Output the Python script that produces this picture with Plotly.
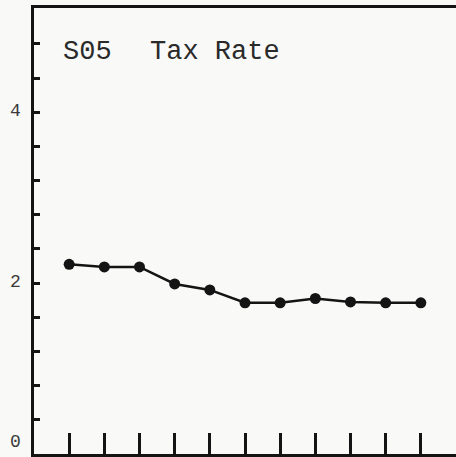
import plotly.graph_objects as go

# Data
periods = [1, 2, 3, 4, 5, 6, 7, 8, 9, 10, 11]
tax_rate = [2.22, 2.19, 2.19, 1.99, 1.92, 1.77, 1.77, 1.82, 1.78, 1.77, 1.77]
y_tick_labels = ["0", "2", "4"]
y_tick_label_vals = [0.14, 2.01, 4.02]
y_minor_ticks = [0.4, 0.8, 1.2, 1.6, 2.0, 2.4, 2.8, 3.2, 3.6, 4.0, 4.4, 4.8]
title_left = "S05"
title_right = "Tax Rate"

ink = "#141414"

fig = go.Figure()
fig.add_trace(go.Scatter(
    x=periods, y=tax_rate, mode="lines+markers",
    line=dict(color=ink, width=2.5),
    marker=dict(color=ink, size=11),
    showlegend=False, cliponaxis=False,
))

annotations = []
for lab, v in zip(y_tick_labels, y_tick_label_vals):
    annotations.append(dict(
        x=-0.045, xref="paper", y=v, yref="y", text=lab, showarrow=False,
        xanchor="center", yanchor="middle",
        font=dict(family="Liberation Mono", size=18, color="#3a3a3a"),
    ))
annotations.append(dict(
    x=0.77, xref="x", y=4.7, yref="y", text=title_left, showarrow=False,
    xanchor="left", yanchor="middle",
    font=dict(family="Liberation Mono", size=27, color="#2a2a2a"),
))
annotations.append(dict(
    x=3.24, xref="x", y=4.7, yref="y", text=title_right, showarrow=False,
    xanchor="left", yanchor="middle",
    font=dict(family="Liberation Mono", size=27, color="#2a2a2a"),
))

fig.update_layout(
    width=456, height=457,
    margin=dict(l=34, r=0, t=8, b=3),
    paper_bgcolor="#f9f9f7", plot_bgcolor="#f9f9f7",
    annotations=annotations,
    xaxis=dict(
        range=[0, 12], showgrid=False, zeroline=False,
        showline=True, linecolor=ink, linewidth=3, mirror=True,
        tickmode="array", tickvals=periods, ticks="inside", ticklen=21,
        tickwidth=3, tickcolor=ink, showticklabels=False,
    ),
    yaxis=dict(
        range=[0, 5.22], showgrid=False, zeroline=False,
        showline=True, linecolor=ink, linewidth=3,
        tickmode="array", tickvals=y_minor_ticks, ticks="inside", ticklen=6,
        tickwidth=3, tickcolor=ink, showticklabels=False,
    ),
)

fig.write_html(
    "out.html",
    config={"displayModeBar": False},
    post_script="document.body.style.margin='0px';document.body.style.overflow='hidden';",
)
